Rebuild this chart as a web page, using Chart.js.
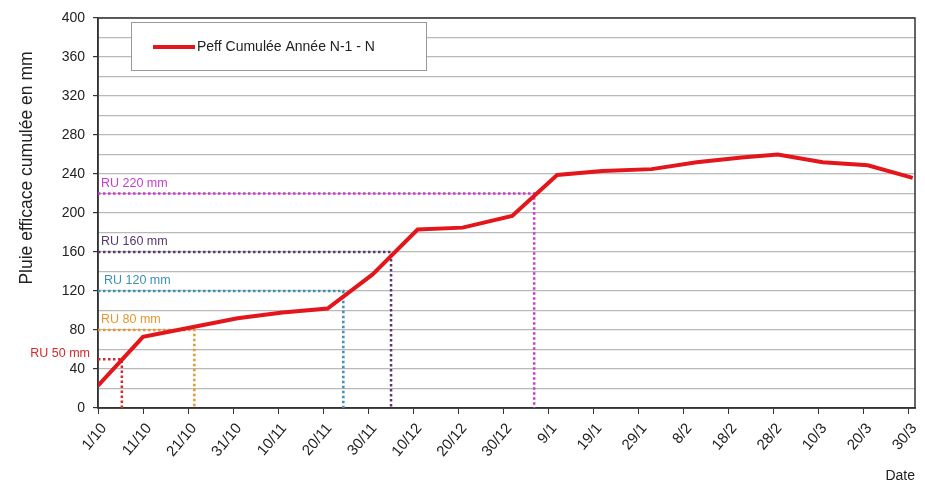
<!DOCTYPE html>
<html>
<head>
<meta charset="utf-8">
<script src="https://cdn.jsdelivr.net/npm/chart.js@4/dist/chart.umd.min.js"></script>
<style>
  body { margin: 0; background: #fff; }
  #wrap { width: 925px; height: 486px; position: relative; }
</style>
</head>
<body>
<div id="wrap"><canvas id="rainChart"></canvas></div>
<script>
// --- data ---
// day index counted from 1/10 (dekad steps: 1, 11, 21 of each month)
const dayIndex = [0, 10, 20, 31, 41, 51, 61, 71, 81, 92, 102, 112, 123, 133, 143, 151, 161, 171, 181];
const peffCumul = [23, 73, 82, 92, 98, 102, 137, 183, 185, 197, 239, 243, 245, 252, 257, 260, 252, 249, 236];

const tickDays = [0, 10, 20, 30, 40, 50, 60, 70, 80, 90, 100, 110, 120, 130, 140, 150, 160, 170, 180];
const tickLabels = ['1/10', '11/10', '21/10', '31/10', '10/11', '20/11', '30/11', '10/12', '20/12', '30/12',
                    '9/1', '19/1', '29/1', '8/2', '18/2', '28/2', '10/3', '20/3', '30/3'];

// reserve utile levels and where the dotted guide drops to the axis
const ruLevels = [50, 80, 120, 160, 220];
const ruDays = [5.3, 21.4, 54.5, 65.1, 96.9];
const ruLabels = ['RU 50 mm', 'RU 80 mm', 'RU 120 mm', 'RU 160 mm', 'RU 220 mm'];
const ruColors = ['#d42a2a', '#e6972e', '#3f8fb8', '#5b3672', '#c93ccf'];

const lineColor = '#e3161b';
const yTitle = 'Pluie efficace cumulée en mm';
const fontFamily = '"Liberation Sans", Arial, sans-serif';

// --- datasets ---
const mainSeries = {
    label: 'Peff Cumulée Année N-1 - N',
    data: dayIndex.map((d, i) => ({ x: d, y: peffCumul[i] })),
    borderColor: lineColor,
    borderWidth: 4,
    pointRadius: 0,
    tension: 0,
    order: 0
};

const ruSeries = ruLevels.map((lvl, i) => ({
    label: ruLabels[i],
    data: [{ x: 0, y: lvl }, { x: ruDays[i], y: lvl }, { x: ruDays[i], y: 0 }],
    borderColor: ruColors[i],
    borderWidth: 2.5,
    borderDash: [2.5, 2.5],
    pointRadius: 0,
    tension: 0,
    order: 1
}));

// frame, y title, RU labels and boxed legend
const decorPlugin = {
    id: 'decor',
    beforeDatasetsDraw(chart) {
        const { ctx, chartArea: a } = chart;
        ctx.save();
        ctx.strokeStyle = '#333';
        ctx.lineWidth = 1.5;
        ctx.strokeRect(a.left, a.top, a.right - a.left, a.bottom - a.top);
        ctx.restore();
    },
    afterDatasetsDraw(chart) {
        const { ctx } = chart;
        const xs = chart.scales.x;
        const ys = chart.scales.y;
        ctx.save();

        // y axis title, sits a bit above the middle in the original
        ctx.save();
        ctx.translate(32, 168);
        ctx.rotate(-Math.PI / 2);
        ctx.fillStyle = '#222';
        ctx.font = '17.5px ' + fontFamily;
        ctx.textAlign = 'center';
        ctx.textBaseline = 'alphabetic';
        ctx.fillText(yTitle, 0, 0);
        ctx.restore();

        ctx.font = '12.5px ' + fontFamily;
        ctx.textBaseline = 'middle';
        ruLevels.forEach((lvl, i) => {
            ctx.fillStyle = ruColors[i];
            const y = ys.getPixelForValue(lvl);
            if (i === 0) {
                ctx.textAlign = 'right';
                ctx.fillText(ruLabels[i], xs.getPixelForValue(0) - 8, y - 6);
            } else {
                ctx.textAlign = 'left';
                ctx.fillText(ruLabels[i], xs.getPixelForValue(0) + (i === 2 ? 6 : 3), y - 10);
            }
        });

        // legend box
        const bx = 131, by = 22, bw = 295, bh = 48;
        ctx.fillStyle = '#fff';
        ctx.fillRect(bx, by, bw, bh);
        ctx.strokeStyle = '#999';
        ctx.lineWidth = 1;
        ctx.strokeRect(bx + 0.5, by + 0.5, bw, bh);
        ctx.strokeStyle = lineColor;
        ctx.lineWidth = 4;
        ctx.beginPath();
        ctx.moveTo(153, by + 25);
        ctx.lineTo(195, by + 25);
        ctx.stroke();
        ctx.fillStyle = '#222';
        ctx.textAlign = 'left';
        ctx.font = '14px ' + fontFamily;
        ctx.fillText(chart.data.datasets[0].label, 197, by + 25);
        ctx.restore();
    }
};

new Chart(document.getElementById('rainChart'), {
    type: 'line',
    data: { datasets: [mainSeries, ...ruSeries] },
    options: {
        responsive: true,
        maintainAspectRatio: false,
        animation: false,
        layout: { padding: { top: 18, right: 10, left: 0, bottom: 0 } },
        plugins: {
            legend: { display: false },
            tooltip: { enabled: false }
        },
        scales: {
            x: {
                type: 'linear',
                min: 0,
                max: 181.5,
                afterBuildTicks: axis => { axis.ticks = tickDays.map(v => ({ value: v })); },
                afterFit: scale => {
                    scale.height = 78;
                    scale.paddingLeft = 0;
                    scale.paddingRight = 0;
                },
                border: { color: '#333', width: 1.5 },
                grid: { drawOnChartArea: false, drawTicks: true, tickLength: 6, color: '#333' },
                ticks: {
                    autoSkip: false,
                    minRotation: 50,
                    maxRotation: 50,
                    padding: 6,
                    labelOffset: 6,
                    color: '#222',
                    font: { family: fontFamily, size: 15 },
                    callback: value => tickLabels[tickDays.indexOf(value)]
                },
                title: {
                    display: true,
                    text: 'Date',
                    align: 'end',
                    color: '#222',
                    padding: { top: 0, bottom: 1 },
                    font: { family: fontFamily, size: 14 }
                }
            },
            y: {
                min: 0,
                max: 400,
                afterFit: scale => { scale.width = 98; },
                border: { color: '#333', width: 1.5 },
                grid: {
                    color: '#b9b9b9',
                    lineWidth: 1.2,
                    tickLength: 5,
                    tickColor: ctx => (ctx.tick && ctx.tick.value % 40 === 0 ? '#333' : 'rgba(0,0,0,0)')
                },
                ticks: {
                    stepSize: 20,
                    autoSkip: false,
                    padding: 8,
                    color: '#222',
                    font: { family: fontFamily, size: 14 },
                    callback: value => (value % 40 === 0 ? value : '')
                }
            }
        }
    },
    plugins: [decorPlugin]
});
</script>
</body>
</html>
